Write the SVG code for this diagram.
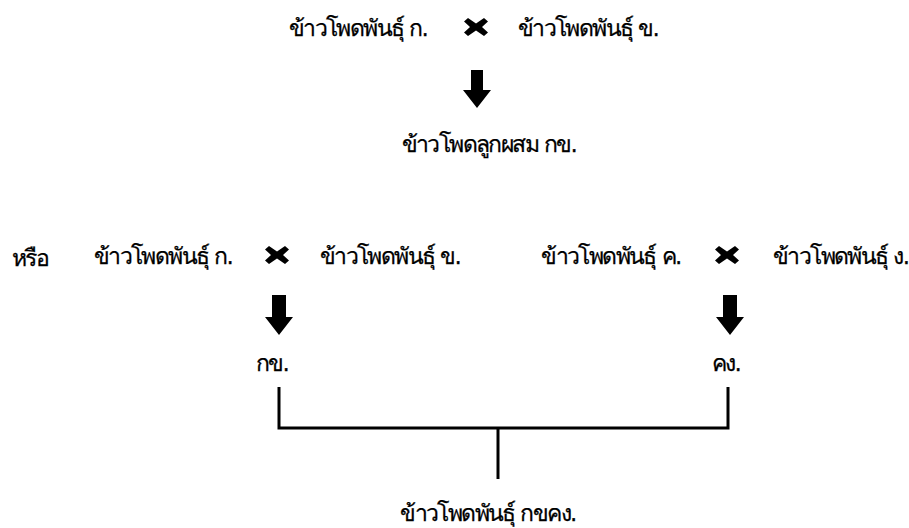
<svg xmlns="http://www.w3.org/2000/svg" width="909" height="528" viewBox="0 0 909 528">
<defs>
<style>
text{font-family:Tahoma,"DejaVu Sans","Noto Sans","Liberation Sans",sans-serif;font-size:23px;font-weight:normal;letter-spacing:-1.6px;fill:#000;text-anchor:middle;stroke:#000;stroke-width:0.25px}
.st{text-anchor:start}
.ln{stroke:#000;stroke-width:3;fill:none}
.sh{fill:#000}
</style>
<path id="cross" d="M-12,-5.5 L-8,-9 L0,-3.5 L8,-9 L12,-5.5 L6,0 L12,5.5 L8,9 L0,3.5 L-8,9 L-12,5.5 L-6,0 Z"/>
</defs>
<rect width="909" height="528" fill="#fff"/>
<g id="n-top-a"><text x="358" y="36">ข้าวโพดพันธุ์ ก.</text></g>
<g id="x-top"><use href="#cross" x="476" y="27"/></g>
<g id="n-top-b"><text x="588" y="36">ข้าวโพดพันธุ์ ข.</text></g>
<g id="n-hybrid"><text x="489" y="152">ข้าวโพดลูกผสม กข.</text></g>
<g id="n-or"><text class="st" x="12" y="266">หรือ</text></g>
<g id="n-a2"><text x="163" y="264">ข้าวโพดพันธุ์ ก.</text></g>
<g id="x-left"><use href="#cross" x="277" y="255"/></g>
<g id="n-b2"><text x="390" y="264">ข้าวโพดพันธุ์ ข.</text></g>
<g id="n-c2"><text x="611" y="264">ข้าวโพดพันธุ์ ค.</text></g>
<g id="x-right"><use href="#cross" x="727" y="255"/></g>
<g id="n-d2"><text class="st" x="773" y="264">ข้าวโพดพันธุ์ ง.</text></g>
<g id="n-ab"><text x="272" y="371">กข.</text></g>
<g id="n-cd"><text x="726" y="371">คง.</text></g>
<g id="n-abcd"><text x="488" y="521">ข้าวโพดพันธุ์ กขคง.</text></g>
<g id="connectors">
<path class="sh" d="M471,70 H483 V90 H491 L477,108 L463,90 H471 Z"/>
<path class="sh" d="M272,295 H286 V317 H293 L279,335 L265,317 H272 Z"/>
<path class="sh" d="M723,295 H737 V317 H744 L730,335 L716,317 H723 Z"/>
<path class="ln" d="M279,387 V428 H728 V387"/>
<path class="ln" d="M498,428 V479"/>
</g>
</svg>
